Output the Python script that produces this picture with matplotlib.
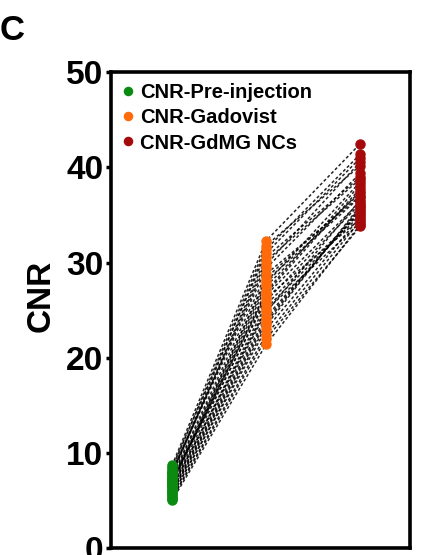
import matplotlib.pyplot as plt
import numpy as np

plt.rcParams['font.family'] = ['Liberation Sans', 'DejaVu Sans']
plt.rcParams['font.weight'] = 'bold'

labels = ["CNR-Pre-injection", "CNR-Gadovist", "CNR-GdMG NCs"]
colors = ["#0b8a12", "#ff6a0a", "#a50a0a"]

# one value per subject, same order in every list
pre = [5.0, 7.2, 5.6, 8.3, 6.0, 6.8, 7.9, 6.4, 5.3, 7.5, 8.7, 6.1, 7.0, 5.8, 8.0,
       6.6, 7.4, 5.2, 8.5, 6.9, 7.7, 6.3, 5.5, 8.1, 7.1, 6.5, 7.8, 5.9, 6.7, 7.3]
gad = [21.4, 26.0, 23.0, 31.8, 24.3, 27.5, 30.2, 25.2, 22.4, 28.8, 32.3, 24.8, 27.0,
       23.7, 29.4, 26.3, 28.1, 22.0, 31.0, 26.8, 30.6, 25.6, 23.4, 29.8, 27.8, 25.0,
       31.4, 24.0, 28.4, 26.6]
gdmg = [34.0, 36.2, 34.8, 40.2, 35.4, 37.5, 38.8, 35.0, 34.4, 37.0, 42.5, 36.6, 38.2,
        35.8, 39.4, 34.6, 36.9, 33.8, 41.0, 37.8, 39.0, 35.2, 36.0, 40.6, 38.5, 34.2,
        41.4, 35.6, 37.3, 36.4]
groups = [pre, gad, gdmg]
xpos = [1, 2, 3]

fig = plt.figure(figsize=(4.25, 5.55), dpi=100)
ax = fig.add_axes([0.261, 0.0126, 0.704, 0.857])

data = np.array(groups)
for i in range(data.shape[1]):
    ax.plot(xpos, data[:, i], color="black", lw=1.1, ls=(0, (2, 1.5)), alpha=0.85, zorder=1)

for x, vals, c, lab in zip(xpos, groups, colors, labels):
    ax.plot([x] * len(vals), vals, "o", color=c, ms=6.5, mec=c, label=lab, zorder=3)

ax.set_xlim(0.35, 3.53)
ax.set_ylim(0, 50)
ax.set_yticks([0, 10, 20, 30, 40, 50])
ax.set_xticks([])
ax.tick_params(axis="y", labelsize=24, width=2.5, length=3.5, pad=2)
for lab in ax.get_yticklabels():
    lab.set_fontweight("bold")
for s in ax.spines.values():
    s.set_linewidth(2.6)
ax.set_ylabel("CNR", fontsize=24, fontweight="bold")
ax.yaxis.set_label_coords(-0.18, 0.53)

ax.legend(loc="upper left", frameon=False, handlelength=0.6,
          handletextpad=0.3, labelspacing=0.3, markerscale=0.9,
          borderaxespad=0.25, borderpad=0.3, prop={"weight": "bold", "size": 14.5})

fig.text(0.0, 0.975, "C", fontsize=25, fontweight="bold", va="top", ha="left")

fig.savefig("out.png", dpi=100)
